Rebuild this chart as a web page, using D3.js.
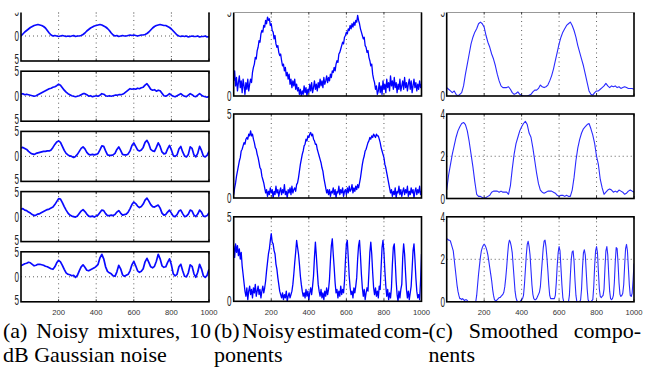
<!DOCTYPE html>
<html>
<head>
<meta charset="utf-8">
<script src="https://cdn.jsdelivr.net/npm/d3@7"></script>
<style>
  html, body { margin: 0; padding: 0; background: #fff; }
  svg { display: block; }
</style>
</head>
<body>
<svg id="fig" width="645" height="368"></svg>
<script>
// ---- sample axis and tick labels ----
const xDomain = [0, 1000];
const xGridTicks = [200, 400, 600, 800];
const xTickValues = [200, 400, 600, 800, 1000];
const xTickLabels = ["200", "400", "600", "800", "1000"];

// ---- (a) noisy mixtures, one value every 10 samples ----
const mix1 = [0.0,0.4,0.8,1.1,1.4,1.7,1.9,2.1,2.2,2.3,2.2,2.1,1.9,1.6,1.1,0.6,0.2,0.0,0.1,0.0,
  -0.1,0.0,0.1,0.0,-0.1,0.0,-0.1,0.0,0.1,-0.1,0.0,0.0,0.1,0.3,0.6,1.0,1.3,1.6,1.8,2.0,
  2.1,2.2,2.3,2.2,2.0,1.8,1.5,1.1,0.6,0.2,0.0,0.1,-0.1,0.0,0.1,0.0,0.0,0.1,0.2,0.1,
  0.2,0.1,0.0,0.1,0.2,0.2,0.3,0.5,0.8,1.2,1.6,1.9,2.1,2.2,2.3,2.2,2.1,2.1,1.9,1.7,
  1.4,1.0,0.6,0.2,0.0,-0.1,0.0,-0.1,0.0,-0.2,-0.1,0.0,-0.1,-0.1,0.0,-0.2,-0.1,-0.1,0.0,-0.2,-0.1];
const mix2 = [0.4,0.5,0.3,0.4,0.3,0.2,0.1,0.0,0.1,0.3,0.5,0.7,0.9,1.1,1.3,1.5,1.6,1.8,1.9,2.1,
  2.4,2.2,1.7,1.2,0.8,0.5,0.3,0.1,0.0,-0.1,0.0,0.1,0.3,0.5,0.5,0.3,0.0,0.1,-0.1,0.0,
  0.1,0.0,0.2,0.5,0.4,0.1,0.0,0.1,0.0,0.1,0.2,0.2,0.3,0.3,0.4,0.6,0.9,1.2,1.5,1.4,
  1.5,1.4,1.6,1.5,1.7,1.8,2.2,2.5,2.0,1.4,1.2,1.3,1.0,1.2,1.1,0.6,0.1,0.0,0.2,0.5,
  0.2,0.0,-0.1,0.1,0.3,0.5,0.2,0.0,-0.1,0.2,0.5,0.3,0.0,-0.1,0.2,0.5,0.2,0.0,-0.1,-0.2,0.0];
const mix3 = [1.7,1.8,1.6,1.4,1.0,0.7,0.5,0.4,0.6,0.7,0.8,0.9,1.0,1.0,1.1,1.1,1.3,1.8,2.4,2.9,
  3.1,2.8,2.0,1.2,0.6,0.3,0.1,0.0,-0.2,0.0,0.4,1.0,1.6,1.9,1.5,0.8,0.4,0.3,0.4,0.3,
  0.4,0.6,1.3,2.1,2.0,1.1,0.3,0.2,0.2,0.3,0.6,1.4,1.9,1.2,0.4,0.3,0.3,0.5,1.1,2.2,
  2.7,2.0,1.3,1.1,1.3,1.8,2.8,3.2,2.5,1.4,1.1,1.0,1.8,2.7,2.0,0.9,0.5,0.6,1.5,2.2,
  1.3,0.2,0.0,0.3,1.5,2.0,0.9,0.1,-0.1,0.4,1.9,1.6,0.3,-0.1,0.6,2.0,1.2,0.1,-0.1,0.2,1.0];
const mix4 = [1.5,1.6,1.3,1.2,0.9,0.7,0.4,0.2,0.3,0.5,0.6,0.8,1.0,1.2,1.4,1.5,1.7,1.9,2.4,3.0,
  3.6,3.5,2.8,2.0,1.3,0.7,0.3,0.1,0.0,-0.1,0.1,0.6,1.1,1.4,1.0,0.5,0.1,0.0,0.1,-0.1,
  0.1,0.3,0.8,1.3,1.2,0.6,0.2,0.2,0.3,0.2,0.4,0.9,1.2,0.7,0.3,0.4,0.5,0.9,1.6,2.4,
  2.9,2.6,2.1,1.8,2.0,2.5,3.3,3.7,3.1,2.4,2.0,1.9,2.1,2.3,1.7,0.7,0.3,0.4,0.9,1.3,
  0.7,0.1,0.0,0.4,1.1,1.3,0.6,0.0,0.1,0.5,1.3,1.1,0.3,0.0,0.5,1.3,0.9,0.1,0.0,0.2,0.8];
const mix5 = [2.2,2.4,2.6,2.7,2.9,2.8,2.5,2.2,2.3,2.5,2.5,2.4,2.3,2.1,2.0,1.8,1.6,1.5,2.0,2.8,
  3.3,3.0,2.3,1.5,0.8,0.5,0.4,0.2,0.3,-0.1,0.3,1.2,2.0,2.4,1.9,1.3,1.2,1.4,1.6,1.8,
  2.1,2.5,3.8,4.5,3.6,2.0,1.1,0.8,0.6,0.2,0.1,1.0,2.3,1.6,0.4,0.1,0.3,0.5,1.2,2.4,
  3.1,2.2,1.2,0.9,1.1,1.6,3.0,3.7,2.9,2.0,1.8,2.1,3.1,4.5,3.6,2.2,1.9,2.0,2.9,3.6,
  2.4,0.6,0.2,0.5,2.0,2.5,1.2,0.1,0.0,0.8,2.4,2.1,0.6,-0.1,0.9,2.5,1.6,0.2,-0.1,0.3,1.5];

// ---- (b) noisy estimated components, one value every 5 samples ----
const est1 = [0.9,1.5,0.6,1.1,0.3,0.8,1.2,0.5,0.9,0.2,1.0,0.6,0.1,0.8,0.4,1.0,0.3,
  0.7,1.0,0.8,1.4,1.7,1.9,2.3,2.2,2.7,2.9,3.3,3.2,3.7,3.9,3.8,4.2,4.1,4.5,4.3,4.7,
  4.5,4.6,4.2,4.3,3.9,3.8,3.4,3.6,3.1,2.9,3.0,2.6,2.4,2.5,2.1,1.8,1.9,1.5,1.7,1.2,1.4,1.0,1.3,0.7,
  1.0,0.5,0.9,0.6,1.0,0.4,0.7,0.3,0.5,0.1,0.4,0.0,0.3,0.1,0.6,0.2,0.5,0.0,0.4,0.2,
  0.7,0.3,0.8,0.2,0.5,0.9,0.4,0.7,0.3,0.8,0.5,1.0,0.6,0.9,0.5,1.1,0.7,0.9,1.2,0.8,
  1.1,0.9,1.3,1.1,1.5,1.4,1.7,1.5,1.9,2.1,2.0,2.5,2.6,2.8,3.0,3.2,3.1,3.5,3.6,3.8,
  3.7,4.0,3.9,4.2,4.0,4.3,4.1,4.4,4.2,4.5,4.4,4.8,
  4.5,4.3,4.0,3.8,3.6,3.4,3.5,3.0,2.9,2.6,2.7,2.3,2.1,1.8,1.9,1.3,1.0,0.8,0.4,0.6,0.1,0.3,
  0.8,0.2,0.6,0.1,0.9,0.4,0.7,0.2,1.0,0.5,0.8,0.3,1.2,0.6,0.9,0.4,1.1,0.5,0.8,0.2,
  0.7,0.4,1.0,0.3,0.6,0.9,0.4,1.1,0.5,0.8,0.3,0.7,1.0,0.4,0.9,0.2,0.6,1.0,0.5,0.8,
  0.3,0.7,0.4,0.9,0.5,0.7];
const est2 = [0.2,0.6,0.9,1.3,1.6,1.9,2.2,2.4,2.8,2.9,3.1,3.3,3.2,3.5,3.6,3.5,3.8,3.7,4.0,3.7,
  3.8,3.5,3.3,3.0,2.9,2.6,2.4,2.1,1.8,1.7,1.3,1.1,0.9,0.6,0.3,0.5,0.1,0.4,
  0.2,0.6,0.3,0.5,0.0,0.4,0.2,0.7,0.3,0.5,0.1,0.4,0.6,0.2,0.5,0.3,0.8,0.2,0.4,0.0,
  0.5,0.3,0.6,0.2,0.7,0.3,0.5,0.6,0.4,0.8,
  0.9,1.2,1.6,2.0,2.3,2.6,2.8,3.1,3.2,3.5,3.4,3.7,3.6,3.8,3.9,3.7,3.8,3.5,3.4,3.2,
  3.2,2.9,2.7,2.5,2.3,2.1,1.8,1.6,1.2,0.9,0.6,0.3,0.5,
  0.2,0.5,0.1,0.4,0.3,0.6,0.2,0.5,0.0,0.4,0.3,0.7,0.2,0.5,0.3,0.6,0.1,0.4,0.5,0.2,
  0.6,0.3,0.7,0.4,0.5,0.8,0.3,0.6,0.4,0.7,0.5,0.8,0.6,
  0.9,1.2,1.6,2.0,2.3,2.5,2.8,2.9,3.1,3.3,3.4,3.6,3.5,3.7,3.6,3.8,3.7,3.6,3.8,3.7,
  3.7,3.5,3.3,3.0,2.8,2.6,2.4,2.0,1.8,1.5,1.2,0.9,0.6,0.3,
  0.5,0.1,0.4,0.2,0.6,0.0,0.4,0.3,0.7,0.2,0.5,0.1,0.4,0.6,0.2,0.5,0.3,0.7,0.1,0.4,
  0.2,0.6,0.3,0.5,0.0,0.4,0.6,0.2,0.5,0.3,0.7,0.2,0.4];
const est3 = [3.3,2.6,3.4,2.9,3.3,2.7,3.1,2.5,2.9,2.1,1.6,1.1,0.6,
  0.3,0.8,0.1,0.6,0.9,0.4,0.7,0.2,0.8,0.5,1.0,0.3,0.6,0.9,0.4,0.7,0.2,0.6,0.9,0.5,0.8,
  1.2,1.8,2.3,2.8,3.1,3.6,4.0,3.5,3.4,3.0,2.8,2.2,1.9,1.4,1.0,0.6,0.4,0.2,
  0.5,0.1,0.4,0.2,0.6,0.0,0.3,0.5,0.2,0.4,0.6,
  1.0,1.6,2.3,2.9,3.6,3.2,2.8,2.2,1.5,1.0,0.6,0.3,
  0.5,0.2,0.7,0.3,0.6,0.1,0.5,0.8,0.4,0.9,
  1.5,2.6,3.5,2.7,1.8,1.0,0.6,
  0.3,0.7,0.2,0.5,0.1,0.6,0.3,0.8,0.4,0.7,
  1.3,2.4,3.3,3.7,2.8,2.0,1.1,0.5,
  0.7,0.2,0.6,0.3,0.9,0.4,0.7,0.5,
  1.2,2.4,3.4,3.6,2.6,1.5,0.8,0.4,
  0.6,0.2,0.8,0.5,0.9,
  1.4,2.5,3.3,3.6,2.7,1.6,0.8,0.3,
  0.7,0.1,0.5,0.8,0.6,
  1.7,2.9,3.5,2.8,1.7,0.8,0.4,
  0.8,0.3,0.6,0.2,0.9,0.7,
  2.0,3.2,3.6,2.9,1.8,0.9,0.3,
  0.7,0.1,0.5,0.2,0.8,
  2.2,3.2,3.4,2.4,1.2,0.4,
  0.0,0.6,0.2,0.7,1.0,
  2.6,3.4,2.8,1.7,0.7,0.2,
  0.6,0.1,0.5,0.9,1.9,
  3.0,3.4,2.5,1.4,0.6,0.2,
  0.4,0.1,1.2,2.8];

// ---- (c) smoothed components ----
const smooth1 = [0.5,0.4,0.3,0.2,0.3,0.1,0.0,0.1,0.2,0.6,1.3,1.9,2.5,3.1,3.5,3.8,4.0,4.3,4.4,4.3,
  4.1,3.6,3.2,2.9,2.5,2.2,1.8,1.3,0.9,0.6,0.5,0.5,0.5,0.55,0.4,0.2,0.1,0.15,0.25,0.1,
  0.05,0.0,0.0,0.0,0.05,0.1,0.25,0.35,0.35,0.45,0.65,0.55,0.5,0.55,0.65,0.9,1.2,1.6,2.1,2.6,
  3.1,3.5,3.8,4.0,4.2,4.3,4.4,4.2,3.9,3.5,3.0,2.6,2.2,1.8,1.3,0.8,0.3,0.1,0.05,0.2,
  0.3,0.3,0.4,0.5,0.6,0.75,0.6,0.5,0.6,0.55,0.6,0.5,0.55,0.45,0.5,0.55,0.5,0.45,0.45,0.45,0.4];
const smooth2 = [0.4,1.1,1.6,2.1,2.5,2.9,3.2,3.4,3.55,3.6,3.5,3.2,2.7,2.1,1.5,0.8,0.2,0.1,0.1,0.05,
  0.0,0.05,0.1,0.15,0.3,0.35,0.35,0.35,0.3,0.35,0.3,0.3,0.3,0.2,0.6,1.4,2.1,2.6,2.9,3.2,
  3.4,3.55,3.65,3.5,3.1,2.9,2.4,1.8,1.2,0.7,0.4,0.3,0.25,0.3,0.35,0.35,0.35,0.3,0.25,0.15,
  0.1,0.15,0.15,0.1,0.15,0.1,0.1,0.4,1.0,1.8,2.4,2.8,3.1,3.3,3.4,3.5,3.55,3.3,3.0,2.6,
  2.0,1.6,0.9,0.5,0.2,0.3,0.4,0.45,0.4,0.3,0.35,0.3,0.4,0.35,0.3,0.2,0.25,0.35,0.4,0.35,0.3];
const smooth3 = [2.95,2.95,2.9,2.9,2.85,2.7,2.55,2.4,2.0,1.6,1.2,0.8,0.5,
  0.3,0.15,0.15,0.1,0.15,0.1,0.05,0.1,0.1,0.05,0.0,0.0,0.0,0.0,0.0,0.0,0.0,0.0,0.0,0.3,0.8,
  1.3,1.7,2.1,2.4,2.55,2.65,2.7,2.65,2.55,2.4,2.2,1.9,1.6,1.3,1.0,0.6,0.3,0.1,
  0.05,0.05,0.1,0.15,0.2,0.2,0.25,0.3,0.35,0.45,0.7,
  1.1,1.6,2.2,2.7,2.9,2.8,2.6,2.3,1.7,1.1,0.5,0.2,
  0.05,0.0,0.0,0.0,0.05,0.1,0.15,0.3,0.8,1.5,
  2.2,2.7,2.85,2.6,2.2,1.5,0.8,
  0.35,0.15,0.1,0.1,0.15,0.25,0.35,0.45,0.7,1.3,
  1.9,2.5,2.85,2.9,2.6,2.1,1.5,0.8,
  0.3,0.15,0.15,0.15,0.15,0.15,0.3,0.9,
  1.7,2.3,2.6,2.4,1.6,0.8,0.2,0.0,
  0.0,0.0,0.0,0.0,0.0,
  0.3,1.2,2.0,2.35,2.4,1.9,1.0,0.3,
  0.0,0.0,0.0,0.0,0.1,
  0.6,1.6,2.3,2.45,2.2,1.4,0.6,
  0.1,0.0,0.0,0.0,0.05,0.1,
  0.7,1.7,2.4,2.6,2.3,1.4,0.6,
  0.25,0.2,0.25,0.3,0.6,
  1.6,2.4,2.6,2.2,1.3,0.5,
  0.15,0.1,0.15,0.3,0.9,
  1.9,2.55,2.5,1.8,0.9,0.35,
  0.25,0.3,0.4,0.8,1.7,
  2.5,2.7,2.4,1.6,0.8,0.3,
  0.25,0.4,1.0,1.8];

// ---- captions ----
const captionLines = [
  { first: ["(a)", "Noisy", "mixtures,", "10"], second: "dB Gaussian noise", x0: 3, x1: 211 },
  { first: ["(b)", "Noisy", "estimated", "com-"], second: "ponents", x0: 214, x1: 429 },
  { first: ["(c)", "Smoothed", "compo-"], second: "nents", x0: 428.5, x1: 641 }
];

// ---- panel layout ----
const colA = { x0: 21, x1: 209 };
const colB = { x0: 233.7, x1: 421.5 };
const colC = { x0: 446.7, x1: 634 };

const panels = [
  { col: colA, top: 11,    h: 50, y: [-5, 5], data: mix1, yl: [[5,"5"],[0,"0"],[-5,"5"]], hg: [0], lx: 19, kind: "a" },
  { col: colA, top: 71.2,  h: 50, y: [-5, 5], data: mix2, yl: [[5,"5"],[0,"0"],[-5,"5"]], hg: [0], lx: 19, kind: "a" },
  { col: colA, top: 131.4, h: 50, y: [-5, 5], data: mix3, yl: [[5,"5"],[0,"0"],[-5,"5"]], hg: [0], lx: 19, kind: "a" },
  { col: colA, top: 191.6, h: 50, y: [-5, 5], data: mix4, yl: [[5,"5"],[0,"0"],[-5,"5"]], hg: [0], lx: 19, kind: "a" },
  { col: colA, top: 251.8, h: 50, y: [-5, 5], data: mix5, yl: [[5,"5"],[0,"0"],[-5,"5"]], hg: [0], lx: 19, kind: "a", xlab: true },
  { col: colB, top: 12,    h: 84, y: [0, 5], data: est1, yl: [[5,"5"],[0,"0"]], hg: [], lx: 231.5, kind: "b" },
  { col: colB, top: 114,   h: 84, y: [0, 5], data: est2, yl: [[5,"5"],[0,"0"]], hg: [], lx: 231.5, kind: "b" },
  { col: colB, top: 216.8, h: 84.5, y: [0, 5], data: est3, yl: [[5,"5"],[0,"0"]], hg: [], lx: 231.5, kind: "b", xlab: true },
  { col: colC, top: 12,    h: 84, y: [0, 5], data: smooth1, yl: [[5,"5"],[0,"0"]], hg: [], lx: 445, kind: "c" },
  { col: colC, top: 114,   h: 84.5, y: [0, 4], data: smooth2, yl: [[4,"4"],[2,"2"],[0,"0"]], hg: [2], lx: 445, kind: "c" },
  { col: colC, top: 216.8, h: 85, y: [0, 4], data: smooth3, yl: [[4,"4"],[2,"2"],[0,"0"]], hg: [2], lx: 445, kind: "c", xlab: true }
];

const lineStyle = {
  a: { color: "#0a0aff", width: 1.7 },
  b: { color: "#0000ff", width: 1.3 },
  c: { color: "#2a2aff", width: 1.1 }
};

const svg = d3.select("#fig");
const defs = svg.append("defs");

// visible window of the figure area
defs.append("clipPath").attr("id", "figwin")
  .append("rect").attr("x", 0).attr("y", 12.4).attr("width", 645).attr("height", 316 - 12.4);

const fig = svg.append("g").attr("clip-path", "url(#figwin)");
const labelFont = "'Liberation Sans', Arial, sans-serif";

panels.forEach((p, k) => {
  const x = d3.scaleLinear(xDomain, [p.col.x0, p.col.x1]);
  const y = d3.scaleLinear(p.y, [p.top + p.h, p.top]);
  const g = fig.append("g");

  const cid = "pc" + k;
  defs.append("clipPath").attr("id", cid)
    .append("rect").attr("x", p.col.x0).attr("y", p.top)
    .attr("width", p.col.x1 - p.col.x0).attr("height", p.h);

  // dotted grid
  g.selectAll("line.vg").data(xGridTicks).join("line")
    .attr("x1", d => x(d)).attr("x2", d => x(d))
    .attr("y1", p.top).attr("y2", p.top + p.h)
    .attr("stroke", "#333").attr("stroke-width", 0.8)
    .attr("stroke-dasharray", "1,3.5");
  g.selectAll("line.hg").data(p.hg).join("line")
    .attr("x1", p.col.x0).attr("x2", p.col.x1)
    .attr("y1", d => y(d)).attr("y2", d => y(d))
    .attr("stroke", "#333").attr("stroke-width", 0.8)
    .attr("stroke-dasharray", "1,3");

  // signal trace
  const n = p.data.length;
  const line = d3.line()
    .x((d, i) => x(i * (xDomain[1] - xDomain[0]) / (n - 1)))
    .y(d => y(d));
  const st = lineStyle[p.kind];
  g.append("path").datum(p.data)
    .attr("clip-path", `url(#${cid})`)
    .attr("d", line)
    .attr("fill", "none")
    .attr("stroke", st.color)
    .attr("stroke-width", st.width)
    .attr("stroke-linejoin", "round");

  // inward ticks
  xTickValues.forEach(t => {
    g.append("line").attr("x1", x(t)).attr("x2", x(t))
      .attr("y1", p.top + p.h).attr("y2", p.top + p.h - 2.5)
      .attr("stroke", "#000").attr("stroke-width", 0.8);
    g.append("line").attr("x1", x(t)).attr("x2", x(t))
      .attr("y1", p.top).attr("y2", p.top + 2.5)
      .attr("stroke", "#000").attr("stroke-width", 0.8);
  });

  // frame
  g.append("rect")
    .attr("x", p.col.x0).attr("y", p.top)
    .attr("width", p.col.x1 - p.col.x0).attr("height", p.h)
    .attr("fill", "none").attr("stroke", "#000").attr("stroke-width", 1.6);

  // y tick labels (condensed digits); the lowest label of the short panels sits a little higher
  p.yl.forEach(([v, t], j) => {
    const lift = (p.kind === "a" && j === p.yl.length - 1) ? -2 : 0;
    g.append("text")
      .attr("transform", `translate(${p.lx},${y(v) + 5 + lift}) scale(0.58,1)`)
      .attr("text-anchor", "end")
      .attr("font-family", labelFont)
      .attr("font-size", 14)
      .attr("fill", "#222")
      .text(t);
  });

  // small x tick labels under the bottom panel of each column
  if (p.xlab) {
    xTickValues.forEach((v, i) => {
      g.append("text")
        .attr("transform", `translate(${x(v)},${p.top + p.h + 13.5}) scale(1.1,1)`)
        .attr("text-anchor", "middle")
        .attr("font-family", labelFont)
        .attr("font-size", 7)
        .attr("fill", "#333")
        .text(xTickLabels[i]);
    });
  }
});

// ---- captions (justified first line, second line from the same left edge) ----
const capFont = "'Liberation Serif', 'Times New Roman', serif";
const capSize = 22;
const capY1 = 338, capY2 = 361.5;
const cap = svg.append("g")
  .attr("font-family", capFont)
  .attr("font-size", capSize)
  .attr("fill", "#000");

captionLines.forEach(c => {
  const words = c.first.map(w => cap.append("text").attr("y", capY1).text(w));
  const widths = words.map(t => t.node().getComputedTextLength());
  const total = d3.sum(widths);
  const gap = Math.max(2, (c.x1 - c.x0 - total) / (words.length - 1));
  let cx = c.x0;
  words.forEach((t, i) => { t.attr("x", cx); cx += widths[i] + gap; });
  cap.append("text").attr("x", c.x0).attr("y", capY2).text(c.second);
});
</script>
</body>
</html>
